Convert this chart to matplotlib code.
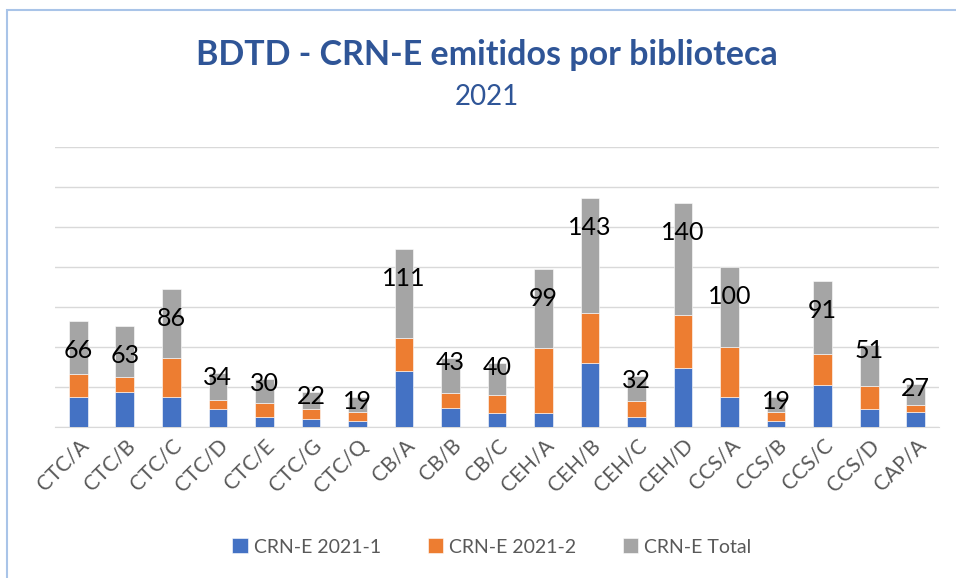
"""Stacked bar chart of CRN-E issued per library (BDTD 2021)."""

from matplotlib import pyplot as plt
from matplotlib.patches import Rectangle
import numpy as np

plt.rcParams["font.family"] = ["Lato", "DejaVu Sans"]

# Data.
libraries = ["CTC/A", "CTC/B", "CTC/C", "CTC/D", "CTC/E", "CTC/G", "CTC/Q", "CB/A", "CB/B", "CB/C",
             "CEH/A", "CEH/B", "CEH/C", "CEH/D", "CCS/A", "CCS/B", "CCS/C", "CCS/D", "CAP/A"]
crn_2021_1 = [38, 44, 38, 23, 13, 10, 7, 70, 24, 18, 18, 80, 13, 74, 38, 8, 53, 23, 19]
crn_2021_2 = [28, 19, 48, 11, 17, 12, 12, 41, 19, 22, 81, 63, 19, 66, 62, 11, 38, 28, 8]
crn_total = [66, 63, 86, 34, 30, 22, 19, 111, 43, 40, 99, 143, 32, 140, 100, 19, 91, 51, 27]
series_names = ["CRN-E 2021-1", "CRN-E 2021-2", "CRN-E Total"]

colours = ["#4472C4", "#ED7D31", "#A5A5A5"]
textGrey = "#595959"
titleBlue = "#2F5597"

fig = plt.figure(figsize=(9.56, 5.78), dpi=100)
fig.patches.append(Rectangle((7 / 956, -0.1), 1.2, (578 - 10) / 578 + 0.1, transform=fig.transFigure,
                             fill=False, edgecolor="#A9C4E8", linewidth=1.5, zorder=0))

ax = fig.add_axes([55 / 956, 151 / 578, 884 / 956, 280 / 578])

x = np.arange(len(libraries))
b1 = np.array(crn_2021_1)
b2 = np.array(crn_2021_2)
tot = np.array(crn_total)

ax.bar(x, b1, width=0.4, color=colours[0], label=series_names[0], zorder=3, edgecolor="white", linewidth=0.4)
ax.bar(x, b2, width=0.4, bottom=b1, color=colours[1], label=series_names[1], zorder=3,
       edgecolor="white", linewidth=0.4)
ax.bar(x, tot, width=0.4, bottom=b1 + b2, color=colours[2], label=series_names[2], zorder=3,
       edgecolor="white", linewidth=0.4)

# Labels sit inside the end of the grey segment, nearer the top for short bars.
for xi, top, t in zip(x, b1 + b2 + tot, tot):
    drop = 37 if t >= 60 else 6
    ax.text(xi, top - drop, str(t), ha="center", va="center", fontsize=18, color="black", zorder=4)

ax.set_xlim(-0.5, len(libraries) - 0.5)
ax.set_ylim(0, 350)
ax.set_yticks(np.arange(0, 351, 50))
ax.yaxis.grid(True, color="#D9D9D9", linewidth=1)
ax.set_axisbelow(True)
ax.tick_params(axis="y", left=False, labelleft=False)
ax.tick_params(axis="x", length=0, pad=6)
for side in ["left", "right", "top"]:
    ax.spines[side].set_visible(False)
ax.spines["bottom"].set_color("#D9D9D9")

ax.set_xticks(x)
ax.set_xticklabels(libraries, rotation=45, ha="right", va="top", rotation_mode="anchor",
                   fontsize=15, color=textGrey)

fig.text(487 / 956, 1 - 55 / 578, "BDTD - CRN-E emitidos por biblioteca", ha="center", va="center",
         fontsize=24.5, fontweight="bold", color=titleBlue)
fig.text(487 / 956, 1 - 97 / 578, "2021", ha="center", va="center", fontsize=20, color=titleBlue)

fig.legend(loc="center", bbox_to_anchor=(492 / 956, 1 - 547 / 578), ncol=3, frameon=False,
           fontsize=14, labelcolor=textGrey, handlelength=0.8, handleheight=0.8, columnspacing=2.4,
           handletextpad=0.3)

fig.savefig("out.png", dpi=100)
